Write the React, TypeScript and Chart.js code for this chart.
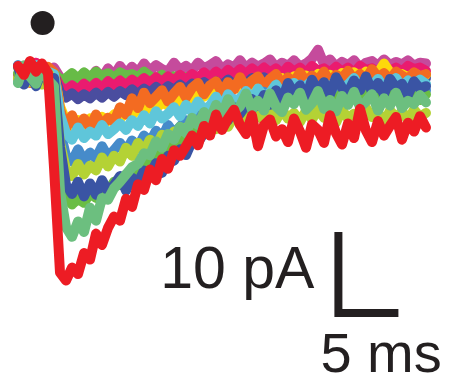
import React, { useEffect, useRef } from "react";
import { Chart, registerables } from "chart.js";

Chart.register(...registerables);

// time axis (ms)
const times = [
  1.5, 2, 2.5, 3, 3.5, 4, 4.5, 5, 5.5, 6,
  6.5, 7, 7.5, 8, 8.5, 9, 9.5, 10, 10.5, 11,
  11.5, 12, 12.5, 13, 13.5, 14, 14.5, 15, 15.5, 16,
  16.5, 17, 17.5, 18, 18.5, 19, 19.5, 20, 20.5, 21,
  21.5, 22, 22.5, 23, 23.5, 24, 24.5, 25, 25.5, 26,
  26.5, 27, 27.5, 28, 28.5, 29, 29.5, 30, 30.5, 31,
  31.5, 32, 32.5, 33, 33.5, 34, 34.5, 35, 35.5,
];

// currents (pA)
const red = [
  0.5, -0.6, 1.1, -0.2, 0.8, -0.4, -12.0, -25.0, -26.0, -24.4,
  -25.2, -22.6, -23.4, -20.2, -21.6, -19.5, -18.1, -18.6, -15.9, -16.9,
  -14.1, -14.8, -12.3, -13.6, -11.0, -12.2, -9.9, -10.6, -9.4, -8.1,
  -9.3, -6.9, -8.1, -5.5, -7.4, -6.0, -4.9, -6.8, -7.9, -5.6,
  -9.4, -6.8, -6.1, -8.2, -7.3, -8.9, -6.0, -7.6, -9.6, -6.7,
  -7.4, -9.0, -5.6, -7.8, -9.2, -6.6, -8.4, -4.8, -7.5, -8.9,
  -6.3, -8.1, -6.9, -5.8, -8.6, -6.5, -7.6, -5.7, -7.1,
];
const seafoam = [
  -1.6, 0.6, -0.8, -1.7, 0.1, -1.2, -2.0, -15.0, -19.4, -20.6,
  -18.7, -20.0, -17.0, -18.6, -15.8, -16.0, -14.6, -13.8, -12.9, -12.0,
  -11.6, -10.3, -10.5, -8.8, -9.6, -7.9, -8.6, -7.0, -7.8, -5.9,
  -6.8, -5.2, -6.1, -4.3, -5.6, -3.6, -5.2, -4.5, -2.9, -4.9,
  -3.8, -5.0, -2.9, -4.5, -5.2, -3.4, -4.2, -2.8, -4.9, -4.1,
  -2.6, -4.8, -3.7, -5.1, -3.2, -4.3, -2.7, -4.6, -3.9, -3.0,
  -5.0, -3.5, -4.4, -2.8, -4.7, -3.8, -4.2, -3.1, -4.0,
];
const darkBlue = [
  0.4, -1.8, -0.4, -2.0, 0.2, -1.2, -1.0, -9.5, -14.2, -15.3,
  -13.8, -15.6, -14.0, -15.4, -13.6, -15.0, -14.2, -13.1, -14.9, -13.3,
  -13.9, -12.4, -12.9, -11.5, -12.7, -10.6, -11.2, -9.8, -10.5, -8.8,
  -8.9, -7.8, -7.0, -6.8, -5.4, -6.2, -4.6, -5.4, -4.2, -3.6,
  -4.4, -3.1, -4.3, -2.5, -3.8, -1.6, -2.9, -1.9, -3.4, -1.2,
  -2.6, -1.5, -3.0, -0.9, -2.2, -2.8, -1.3, -2.5, -0.8, -2.7,
  -1.6, -3.0, -1.1, -2.2, -1.7, -3.1, -1.4, -2.3, -2.0,
];
const grassGreen = [
  -0.4, -1.4, 0.5, -1.1, -0.2, -1.6, -1.2, -11.0, -15.8, -16.6,
  -15.9, -16.4, -15.2, -15.8, -14.6, -15.0, -13.8, -14.2, -12.9, -13.3,
  -11.9, -12.3, -10.9, -11.2, -9.9, -10.2, -8.9, -9.2, -8.0, -8.3,
  -7.1, -7.4, -6.3, -6.7, -5.6, -6.0, -5.0, -5.4, -4.5, -4.9,
  -4.0, -4.5, -3.6, -4.1, -3.3, -3.9, -3.0, -3.7, -3.2, -3.8,
  -2.9, -3.6, -3.1, -3.9, -2.8, -3.5, -3.2, -3.7, -2.9, -3.4,
  -3.0, -3.8, -3.1, -3.6, -2.7, -3.5, -3.2, -3.7, -3.0,
];
const lime = [
  -1.0, 0.3, -1.5, 0.0, -1.8, -0.3, -1.5, -9.0, -12.3, -13.1,
  -11.6, -12.9, -11.8, -12.4, -10.8, -11.9, -10.6, -11.3, -9.6, -10.6,
  -9.0, -10.0, -8.6, -9.5, -8.0, -9.0, -7.6, -8.5, -7.1, -8.1,
  -6.8, -7.7, -6.4, -7.3, -6.0, -7.0, -5.7, -6.6, -5.5, -6.5,
  -5.3, -6.3, -5.1, -6.2, -4.9, -6.0, -5.3, -6.4, -5.0, -6.1,
  -4.8, -5.9, -5.1, -6.5, -4.9, -6.0, -5.4, -6.3, -4.7, -5.8,
  -5.2, -6.6, -5.0, -5.9, -5.1, -6.2, -4.9, -5.8, -5.3,
];
const cyan = [
  -1.5, 0.2, -1.0, 0.6, -1.3, -0.2, -0.5, -5.5, -7.8, -8.6,
  -7.1, -8.4, -7.6, -8.1, -6.8, -7.9, -7.3, -6.6, -7.4, -6.2,
  -6.9, -5.6, -6.6, -5.1, -6.0, -5.4, -4.6, -5.7, -4.3, -5.2,
  -3.9, -4.9, -4.4, -3.3, -4.6, -3.0, -3.9, -3.5, -2.6, -3.6,
  -2.3, -3.3, -2.8, -1.8, -3.0, -2.2, -1.6, -2.7, -2.0, -1.3,
  -2.5, -1.6, -2.4, -1.1, -2.2, -1.8, -1.0, -2.3, -1.4, -2.0,
  -1.1, -2.2, -1.5, -1.0, -2.1, -1.3, -1.9, -1.2, -1.7,
];
const midBlue = [
  0.6, -1.2, 0.8, -1.0, 0.4, -1.5, -0.8, -7.5, -10.6, -11.3,
  -9.8, -11.2, -10.2, -10.9, -9.4, -10.7, -9.9, -9.0, -10.0, -8.7,
  -9.5, -8.1, -8.9, -7.5, -8.4, -6.8, -7.8, -7.0, -6.2, -7.1,
  -5.4, -6.5, -5.0, -5.9, -4.2, -5.3, -3.6, -4.8, -3.2, -4.1,
  -3.4, -2.7, -3.8, -2.3, -3.2, -2.1, -3.4, -1.8, -2.9, -2.5,
  -3.3, -1.9, -2.8, -2.2, -3.1, -1.8, -2.6, -3.0, -1.9, -2.7,
  -2.1, -3.2, -2.4, -1.9, -2.9, -2.3, -2.8, -2.0, -2.5,
];
const orange = [
  -1.1, 0.4, -1.6, -0.1, -1.3, 0.4, -0.3, -4.8, -7.2, -5.6,
  -7.3, -6.0, -7.1, -5.5, -6.9, -5.9, -6.4, -4.6, -5.5, -3.5,
  -4.7, -2.8, -4.1, -3.3, -2.5, -3.9, -2.9, -2.1, -3.4, -2.2,
  -1.6, -3.0, -1.9, -1.4, -2.8, -1.5, -2.4, -0.9, -2.2, -1.3,
  -0.8, -2.0, -1.1, -0.5, -1.8, -0.9, -1.5, -0.3, -1.4, -0.7,
  -1.3, -0.2, -1.5, -0.6, -1.0, -0.1, -1.2, -0.5, -1.1, 0.1,
  -0.9, -0.4, -1.2, -0.2, -0.7, -1.1, -0.3, -0.8, -0.5,
];
const yellow = [
  0.3, -0.6, 0.8, -0.2, 0.5, -0.7, -0.4, -4.5, -6.3, -6.9,
  -6.2, -6.8, -6.0, -6.6, -5.8, -6.3, -5.5, -6.0, -5.2, -5.6,
  -4.8, -5.2, -4.4, -4.8, -4.0, -4.4, -3.6, -4.0, -3.2, -3.6,
  -2.9, -3.3, -2.6, -3.0, -2.3, -2.7, -2.0, -2.4, -1.7, -2.1,
  -1.4, -1.9, -1.2, -1.7, -1.0, -1.5, -0.8, -1.3, -0.7, -1.2,
  -0.5, -1.1, -0.6, -1.0, -0.4, -0.9, -0.3, -0.8, -0.2, -0.6,
  -0.4, 0.8, -0.3, -0.7, -0.5, -0.9, -0.4, -0.8, -0.6,
];
const indigo = [
  0.5, -0.8, 0.2, -1.0, 0.4, -0.3, -0.5, -2.8, -3.4, -2.9,
  -3.6, -3.0, -3.5, -2.8, -3.4, -2.7, -3.3, -2.6, -3.1, -2.4,
  -3.0, -2.3, -2.8, -2.1, -2.7, -2.0, -2.5, -1.8, -2.4, -1.7,
  -2.2, -1.5, -2.1, -1.4, -1.9, -1.2, -1.8, -1.1, -1.7, -1.0,
  -1.5, -0.9, -1.4, -0.8, -1.3, -0.9, -1.5, -0.8, -1.2, -0.7,
  -1.3, -0.9, -1.4, -0.8, -1.2, -0.6, -1.1, -0.9, -1.3, -0.7,
  -1.2, -0.8, -1.1, -0.6, -1.2, -0.9, -1.3, -0.8, -1.0,
];
const pink = [
  -0.6, 0.4, -0.2, 0.9, -0.4, 0.3, -0.6, -2.0, -2.6, -1.9,
  -2.5, -1.7, -2.3, -1.6, -2.2, -1.4, -2.0, -1.3, -1.9, -1.2,
  -1.7, -1.0, -1.6, -0.9, -1.5, -0.8, -1.3, -0.6, -1.2, -0.5,
  -1.0, -0.3, -0.9, -0.2, -0.8, 0.0, -0.6, 0.1, -0.5, 0.2,
  -0.4, 0.3, -0.3, 0.2, -0.5, 0.4, -0.2, 0.3, -0.4, 0.5,
  -0.1, 0.2, -0.3, 0.4, -0.2, 0.3, -0.4, 0.5, 0.0, 0.2,
  -0.3, 0.4, -0.1, 0.3, -0.2, 0.5, 0.1, 0.3, -0.1,
];
const brightGreen = [
  -1.4, -0.2, -1.1, 0.4, -0.8, 0.2, -0.3, -1.2, -1.0, -0.4,
  -1.1, -0.3, -0.9, -0.2, -0.8, -0.4, -1.0, -0.3, -0.7, -0.5,
  -0.9, -0.2, -0.8, -1.2, -0.6, -1.4, -0.8, -1.5, -0.9, -1.6,
  -1.0, -1.4, -0.7, -1.3, -0.9, -1.5, -1.1, -0.8, -1.4, -1.0,
  -1.6, -0.9, -1.3, -0.7, -1.2, -0.8, -1.4, -0.9, -1.3, -0.6,
  -1.1, -0.8, -1.2, -0.7, -1.3, -0.9, -1.1, -0.6, -1.2, -0.8,
  -1.0, -0.5, -1.1, -0.7, -0.4, -0.9, -0.6, -1.0, -0.7,
];
const magenta = [
  0.5, -0.7, 1.0, -0.3, 0.6, -0.4, 0.3, -0.9, -1.6, -0.6,
  -1.4, -0.4, -1.2, -0.1, -1.0, 0.2, -0.7, 0.5, -0.5, 0.4,
  -0.3, 0.8, -0.1, 0.6, 0.1, -0.2, 0.9, 0.0, 0.5, -0.1,
  0.9, 0.2, 0.6, 1.1, 0.1, 0.7, 0.3, 1.2, 0.2, 0.9,
  0.4, 0.8, 1.3, 0.3, 0.9, 0.5, 1.2, 0.4, 0.8, 1.4,
  2.5, 0.7, 1.3, 0.4, 1.0, 0.6, 1.2, 0.3, 0.9, 1.1,
  0.5, 1.3, 0.6, 1.0, 0.7, 1.2, 0.5, 0.9, 0.8,
];

// front-most first
const traceNames = ["red", "seafoam", "darkBlue", "grassGreen", "lime", "cyan", "midBlue", "orange", "yellow", "indigo", "pink", "brightGreen", "magenta"];
const traceValues = [red, seafoam, darkBlue, grassGreen, lime, cyan, midBlue, orange, yellow, indigo, pink, brightGreen, magenta];
const traceColors = ["#ed1c24", "#6cbf7f", "#3a54a4", "#6abd45", "#b4d235", "#5fc6da", "#468bca", "#f36b21", "#fdd90b", "#4a4d9f", "#ea1b6f", "#67bb47", "#c54b9c"];

// stimulus marker
const stimTime = [3.55];
const stimCurrent = [5.8];

// scale bar: 10 pA / 5 ms
const barTime = [28.2, 28.2, 33.2];
const barCurrent = [-20, -30, -30];
const barLabelCurrent = "10 pA";
const barLabelTime = "5 ms";

const INK = "#231f20";
const FONT = '"Liberation Sans", Arial, Helvetica, sans-serif';

export default function App() {
  const ref = useRef<HTMLCanvasElement>(null);

  useEffect(() => {
    const canvas = ref.current;
    if (!canvas) return;

    const traceSets: any[] = traceValues.map((vals, k) => ({
      label: traceNames[k],
      data: vals.map((v, i) => ({ x: times[i], y: v })),
      borderColor: traceColors[k],
      backgroundColor: traceColors[k],
      borderWidth: 10,
      borderCapStyle: "round",
      borderJoinStyle: "round",
      pointRadius: 0,
      tension: 0,
      fill: false,
    }));

    const datasets: any[] = [
      {
        label: "stimulus",
        data: stimTime.map((t, i) => ({ x: t, y: stimCurrent[i] })),
        showLine: false,
        pointRadius: 12,
        pointBackgroundColor: INK,
        pointBorderWidth: 0,
        borderColor: INK,
      },
      {
        label: "scalebar",
        data: barTime.map((t, i) => ({ x: t, y: barCurrent[i] })),
        borderColor: INK,
        borderWidth: 8,
        borderCapStyle: "butt",
        borderJoinStyle: "miter",
        pointRadius: 0,
        tension: 0,
        fill: false,
      },
      ...traceSets,
    ];

    const labelPlugin = {
      id: "barLabels",
      afterDatasetsDraw(chart: any) {
        const { ctx, scales } = chart;
        const xb = scales.x.getPixelForValue(barTime[1]);
        const yb = scales.y.getPixelForValue(barCurrent[1]);
        ctx.save();
        ctx.fillStyle = INK;
        ctx.textBaseline = "alphabetic";
        ctx.font = `59px ${FONT}`;
        ctx.textAlign = "right";
        ctx.fillText(barLabelCurrent, xb - 24, yb - 25);
        ctx.font = `56px ${FONT}`;
        ctx.textAlign = "left";
        ctx.fillText(barLabelTime, xb - 18, yb + 59);
        ctx.restore();
      },
    };

    const chart = new Chart(canvas, {
      type: "line",
      data: { datasets },
      options: {
        animation: false,
        responsive: false,
        devicePixelRatio: 1,
        events: [],
        layout: { padding: 0, autoPadding: false },
        plugins: { legend: { display: false }, tooltip: { enabled: false } },
        scales: {
          x: { type: "linear", min: 0, max: 37.5, display: false },
          y: { type: "linear", min: -38.642, max: 8.642, display: false },
        },
      },
      plugins: [labelPlugin],
    } as any);

    return () => chart.destroy();
  }, []);

  return (
    <div style={{ position: "fixed", left: 0, top: 0, width: 450, height: 383, background: "#ffffff" }}>
      <canvas ref={ref} width={450} height={383} style={{ width: 450, height: 383, display: "block" }} />
    </div>
  );
}
